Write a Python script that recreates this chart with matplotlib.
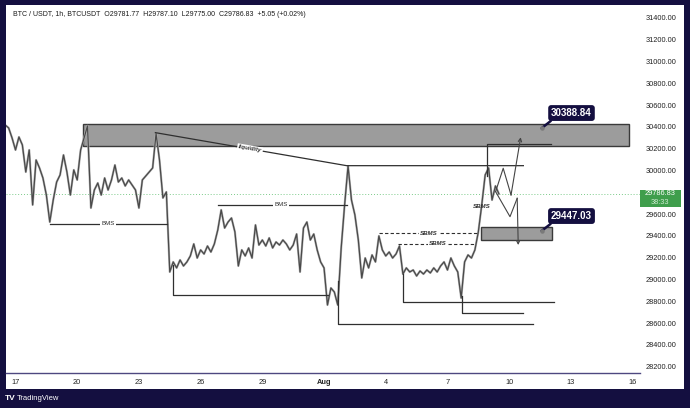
import numpy as np
import matplotlib.pyplot as plt
from matplotlib.patches import Rectangle
from matplotlib.transforms import blended_transform_factory

plt.rcParams['font.family'] = ['Liberation Sans', 'DejaVu Sans']

# 4h closes. time in days from Jul 17 00:00
start_day = -0.5
bar_step = 1 / 6
closes = [30418, 30391, 30299, 30189, 30308, 30235, 29987, 30189, 29685, 30097,
          30024, 29932, 29776, 29528, 29730, 29895, 29960, 30143, 29987, 29776,
          30006, 29914, 30189, 30300, 30410, 29657, 29822, 29886, 29776, 29932,
          29822, 29914, 30051, 29895, 29932, 29859, 29914, 29868, 29822, 29657,
          29914, 29950, 29987, 30024, 30340, 30097, 29749, 29804, 29070, 29162,
          29107, 29180, 29125, 29162, 29217, 29327, 29198, 29272, 29235, 29308,
          29253, 29327, 29455, 29639, 29473, 29528, 29565, 29437, 29125, 29272,
          29217, 29290, 29198, 29501, 29317, 29363, 29308, 29382, 29290, 29345,
          29317, 29363, 29327, 29272, 29317, 29418, 29070, 29473, 29528, 29363,
          29418, 29272, 29162, 29107, 28767, 28923, 28886, 28767, 29290, 29685,
          30042, 29730, 29593, 29363, 29015, 29198, 29107, 29226, 29162, 29400,
          29272, 29217, 29253, 29198, 29235, 29308, 29051, 29107, 29070, 29088,
          29033, 29079, 29051, 29088, 29061, 29107, 29070, 29125, 29162, 29088,
          29198, 29125, 29070, 28831, 29162, 29226, 29198, 29272, 29437, 29685,
          29960, 30024, 29730, 29859, 29786.83]
last_price = 29786.83

date_ticks = [0, 3, 6, 9, 12, 15, 18, 21, 24, 27, 30]
date_labels = ['17', '20', '23', '26', '29', 'Aug', '4', '7', '10', '13', '16']
price_ticks = [28200, 28400, 28600, 28800, 29000, 29200, 29400, 29600,
               30000, 30200, 30400, 30600, 30800, 31000, 31200, 31400]

# zones: (day from, day to, price low, price high)
upper_zone = (3.30, 29.81, 30226, 30425)
lower_zone = (22.62, 26.07, 29363, 29480)

# drawn lines: lists of (day, price)
bms_1 = [(1.68, 29510), (7.35, 29510)]
bms_2 = [(9.86, 29685), (16.11, 29685)]
liquidity = [(6.80, 30348), (16.10, 30045), (24.69, 30045)]
low_1 = [(7.64, 29130), (7.64, 28860), (15.2, 28860)]
low_2 = [(15.69, 28990), (15.69, 28590), (25.14, 28590)]
low_3 = [(18.82, 29050), (18.82, 28797), (26.18, 28797)]
low_4 = [(21.72, 28850), (21.72, 28694), (24.69, 28694)]
top_line = [(22.94, 29950), (22.94, 30241), (26.02, 30241)]
sbms_1 = [(17.69, 29425), (22.50, 29425)]
sbms_2 = [(18.61, 29327), (22.29, 29327)]
proj_up = [(23.34, 29807), (23.71, 30021), (24.09, 29776), (24.56, 30306)]
proj_down = [(23.34, 29807), (24.04, 29577), (24.39, 29746), (24.44, 29317)]

callout_day = 25.58
callout_prices = [30388.84, 29447.03]
callout_text_day = 27.03
callout_text_price = [30528, 29583]

title = ('BTC / USDT, 1h, BTCUSDT  O29781.77  H29787.10  L29775.00  '
         'C29786.83  +5.05 (+0.02%)')

navy = '#140f40'
ink = '#2f2f2f'

fig = plt.figure(figsize=(6.9, 4.08), dpi=100, facecolor=navy)
fig.add_artist(Rectangle((6 / 690, 1 - 389 / 408), 678 / 690, 384 / 408,
                         transform=fig.transFigure, fc='white', ec='none', zorder=0))
ax = fig.add_axes([6 / 690, 1 - 373 / 408, 634 / 690, 368 / 408])
ax.set_facecolor('white')
ax.set_xlim(-0.462, 30.36)
ax.set_ylim(28143, 31519)

# price
t = start_day + bar_step * np.arange(len(closes))
ax.plot(t, closes, color='#b4b4b4', lw=1.6, zorder=2)
ax.plot(t, closes, color='#4a4a4a', lw=0.9, zorder=3)
ax.axhline(last_price, color='#7ccb8a', lw=0.7, ls=(0, (1, 2)), zorder=1)

# zones
for d0, d1, p0, p1 in [upper_zone, lower_zone]:
    ax.add_patch(Rectangle((d0, p0), d1 - d0, p1 - p0, fc='#9c9c9c',
                           ec='#3a3a3a', lw=1.0, zorder=1.5))


def draw(points, **kw):
    xs, ys = zip(*points)
    ax.plot(xs, ys, color=kw.pop('color', ink), lw=kw.pop('lw', 0.9), zorder=4, **kw)


for line in [bms_1, bms_2, liquidity, low_1, low_2, low_3, low_4, top_line]:
    draw(line)
for line in [sbms_1, sbms_2]:
    draw(line, ls=(0, (3, 2)), lw=0.8)

label_kw = dict(ha='center', va='center', fontsize=4.4, color=ink, zorder=6,
                bbox=dict(fc='white', ec='none', pad=0.8))
ax.text(4.5, bms_1[0][1], 'BMS', **label_kw)
ax.text(12.9, bms_2[0][1], 'BMS', **label_kw)
ax.text(20.10, sbms_1[0][1], 'SBMS', fontweight='bold', style='italic', **label_kw)
ax.text(20.54, sbms_2[0][1], 'SBMS', fontweight='bold', style='italic', **label_kw)
ax.text(22.66, 29669, 'SBMS', fontweight='bold', style='italic',
        ha='center', va='center', fontsize=4.4, color=ink, zorder=6)
ax.text(11.4, 30198, 'liquidity', rotation=-9.75, rotation_mode='anchor',
        fontweight='bold', style='italic', **label_kw)

# projections
for path in [proj_up, proj_down]:
    draw(path[:-1], color='#444444', lw=0.8)
    ax.annotate('', xy=path[-1], xytext=path[-2], zorder=4,
                arrowprops=dict(arrowstyle='->', color='#444444', lw=0.8,
                                mutation_scale=6, shrinkA=0, shrinkB=0))

# callouts
for price, ty in zip(callout_prices, callout_text_price):
    ax.annotate(f'{price:.2f}', xy=(callout_day, price), xytext=(callout_text_day, ty),
                ha='center', va='center', fontsize=7, fontweight='bold', color='white',
                zorder=7, bbox=dict(boxstyle='round,pad=0.3', fc=navy, ec='none'),
                arrowprops=dict(arrowstyle='-', color=navy, lw=1.8, shrinkA=0,
                                shrinkB=0, relpos=(0.08, 0)))
    ax.plot(callout_day, price, 'o', ms=2.2, color='#7a7a7a', zorder=8)

# axes
for s in ['top', 'left', 'right']:
    ax.spines[s].set_visible(False)
ax.spines['bottom'].set_color('#4e4880')
ax.spines['bottom'].set_linewidth(1.0)
ax.yaxis.tick_right()
ax.set_yticks(price_ticks)
ax.set_yticklabels([f'{p:.2f}' for p in price_ticks])
ax.set_xticks(date_ticks)
ax.set_xticklabels(date_labels)
ax.get_xticklabels()[5].set_fontweight('bold')
ax.tick_params(axis='y', length=0, pad=4.3, labelsize=5.3, labelcolor='#222222')
ax.tick_params(axis='x', length=0, pad=4.0, labelsize=5.3, labelcolor='#222222')

# last price tag on the price scale
tr = blended_transform_factory(ax.transAxes, ax.transData)
ax.add_patch(Rectangle((1.0, 29666), 0.0647, 156, transform=tr, clip_on=False,
                       fc='#3f9e4c', ec='none', zorder=9))
ax.text(1.032, last_price, f'{last_price:.2f}', transform=tr, ha='center',
        va='center', fontsize=5.3, color='white', zorder=10, clip_on=False)
ax.text(1.032, 29708, '38:33', transform=tr, ha='center', va='center',
        fontsize=5.3, color='#cdebd0', zorder=10, clip_on=False)

fig.text(12.7 / 690, 1 - 15 / 408, title, fontsize=5.0, ha='left', va='center',
         color='#1a1a1a')
fig.text(5 / 690, 1 - 399 / 408, 'TV', fontsize=6, fontweight='bold',
         ha='left', va='center', color='white')
fig.text(17 / 690, 1 - 399 / 408, 'TradingView', fontsize=5.5, ha='left',
         va='center', color='white')

fig.savefig('out.png', dpi=100, facecolor=navy)
